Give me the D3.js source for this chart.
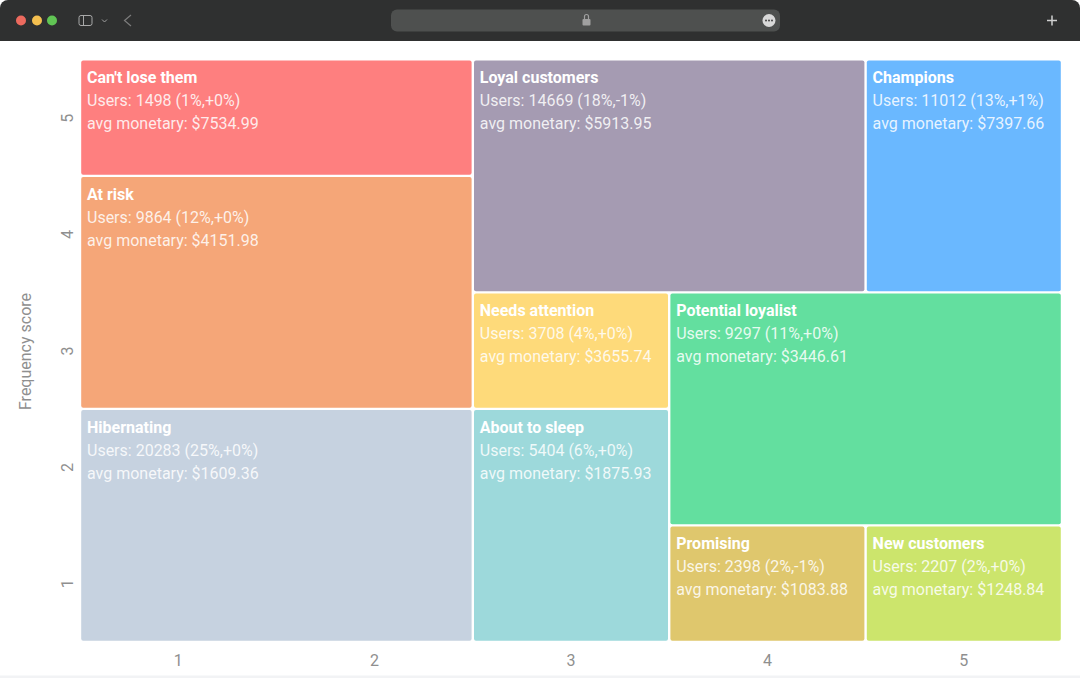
<!DOCTYPE html>
<html><head><meta charset="utf-8">
<script src="https://cdn.jsdelivr.net/npm/d3@7/dist/d3.min.js"></script>
<style>
html,body{margin:0;padding:0;background:#fff;overflow:hidden}
svg{display:block;font-family:Roboto,sans-serif}
</style></head><body>
<svg id="c" width="1080" height="678"></svg>
<script>
const segments=["Can't lose them","At risk","Hibernating","Loyal customers","Needs attention","About to sleep","Champions","Potential loyalist","Promising","New customers"];
const users=[1498,9864,20283,14669,3708,5404,11012,9297,2398,2207];
const sharePct=[1,12,25,18,4,6,13,11,2,2];
const changePct=["+0","+0","+0","-1","+0","+0","+1","+0","-1","+0"];
const avgMonetary=["7534.99","4151.98","1609.36","5913.95","3655.74","1875.93","7397.66","3446.61","1083.88","1248.84"];
const recencyFrom=[0,0,0,2,2,2,4,3,3,4];
const recencyTo=[2,2,2,4,3,3,5,5,4,5];
const frequencyFrom=[4,2,0,3,2,0,3,1,0,0];
const frequencyTo=[5,4,2,5,3,2,5,3,1,1];
const colors=["#fe7f7f","#f5a678","#c6d2e0","#a59bb2","#feda7a","#9dd9db","#6ab8ff","#63df9f","#dfc76d","#cce56c"];
const xTicks=[1,2,3,4,5], yTicks=[1,2,3,4,5];
const yTitle="Frequency score";

const svg=d3.select("#c");
const x=d3.scaleLinear().domain([0,5]).range([80,1062]);
const y=d3.scaleLinear().domain([0,5]).range([642,59.500]);
const xBand=d3.scaleBand().domain(xTicks).range([80,1062]);
const yBand=d3.scaleBand().domain(yTicks).range([642,60]);

// browser chrome
const chrome=svg.append("g");
chrome.append("path").attr("d","M0 41V8a8 8 0 0 1 8-8H1072a8 8 0 0 1 8 8V41Z").attr("fill","#2f3030");
[["#ec6a5e",21],["#f4bf4f",37],["#61c554",52]].forEach(([f,cx])=>chrome.append("circle").attr("cx",cx).attr("cy",20.5).attr("r",5).attr("fill",f));
chrome.append("rect").attr("x",79).attr("y",15.5).attr("width",13).attr("height",10).attr("rx",2).attr("fill","none").attr("stroke","#a8a8a8");
chrome.append("path").attr("d","M83.5 16v9").attr("stroke","#a8a8a8");
chrome.append("path").attr("d","M102 19.5l2.5 2.5 2.5-2.5").attr("fill","none").attr("stroke","#a0a0a0");
chrome.append("path").attr("d","M131 15l-6.500 5.500 6.500 5.500").attr("fill","none").attr("stroke","#7c7c7c").attr("stroke-width",1.2);
chrome.append("rect").attr("x",391).attr("y",9.500).attr("width",389).attr("height",22).attr("rx",6).attr("fill","#4e504f");
chrome.append("rect").attr("x",582.500).attr("y",19).attr("width",8).attr("height",6.500).attr("rx",1).attr("fill","#a0a0a0");
chrome.append("path").attr("d","M584.500 19v-2.500a2 2 0 0 1 4 0V19").attr("fill","none").attr("stroke","#a0a0a0").attr("stroke-width",1.2);
chrome.append("circle").attr("cx",769).attr("cy",20.500).attr("r",6.500).attr("fill","#d8d8d8");
[766,769,772].forEach(cx=>chrome.append("circle").attr("cx",cx).attr("cy",20.500).attr("r",1).attr("fill","#444"));
chrome.append("path").attr("d","M1052 15.500v10M1047 20.500h10").attr("stroke","#d0d0d0").attr("stroke-width",1.500);
svg.append("rect").attr("y",675.500).attr("width",1080).attr("height",2.500).attr("fill","#f2f3f5");

// cells
const idx=d3.range(segments.length);
const cell=svg.append("g").selectAll("g").data(idx).join("g");
cell.append("rect")
  .attr("x",i=>x(recencyFrom[i])+1.200).attr("y",i=>y(frequencyTo[i])+1)
  .attr("width",i=>x(recencyTo[i])-x(recencyFrom[i])-2.400)
  .attr("height",i=>y(frequencyFrom[i])-y(frequencyTo[i])-2.200)
  .attr("rx",2).attr("fill",i=>colors[i]);
const tx=i=>x(recencyFrom[i])+7, ty=i=>y(frequencyTo[i]);
cell.append("text").attr("x",tx).attr("y",i=>ty(i)+23.500).attr("fill","#fff").attr("font-size",16).attr("font-weight",700)
  .text(i=>segments[i]);
cell.append("text").attr("x",tx).attr("y",i=>ty(i)+46.500).attr("fill","#fff").attr("fill-opacity",.85).attr("font-size",16)
  .text(i=>`Users: ${users[i]} (${sharePct[i]}%,${changePct[i]}%)`);
cell.append("text").attr("x",tx).attr("y",i=>ty(i)+69.500).attr("fill","#fff").attr("fill-opacity",.85).attr("font-size",16)
  .text(i=>`avg monetary: $${avgMonetary[i]}`);

// axes
const xAxis=svg.append("g").attr("transform","translate(0,642)").call(d3.axisBottom(xBand).tickSize(0).tickPadding(13));
const yAxis=svg.append("g").attr("transform","translate(80,0)").call(d3.axisLeft(yBand).tickSize(0));
[xAxis,yAxis].forEach(a=>{a.select(".domain").remove();a.selectAll("text").attr("fill","#8f8f8f").attr("font-size",16).attr("font-family","Roboto, sans-serif");});
xAxis.selectAll("text").attr("dy","0.71em");
yAxis.selectAll("text").attr("text-anchor","middle").attr("dy",0)
  .attr("x",null).attr("transform","translate(-7,0) rotate(-90)").attr("y",0);
svg.append("text").attr("transform","translate(30.500,351.500) rotate(-90)").attr("text-anchor","middle")
  .attr("fill","#8f8f8f").attr("font-size",16).text(yTitle);
</script>
</body></html>
